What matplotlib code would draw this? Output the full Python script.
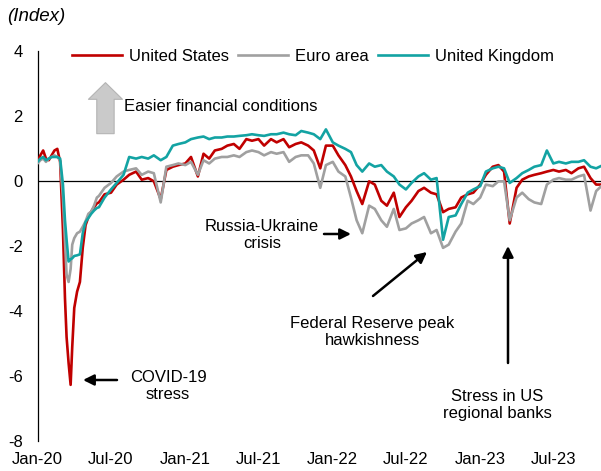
import numpy as np
import pandas as pd
import matplotlib
matplotlib.use("Agg")
import matplotlib.pyplot as plt

plt.rcParams["font.family"] = ["Liberation Sans", "DejaVu Sans"]
plt.rcParams["font.size"] = 12
plt.rcParams["axes.unicode_minus"] = False

# weekly dates through the COVID shock, then semi-monthly
dates_early = ["2020-01-01", "2020-01-08", "2020-01-15", "2020-01-22", "2020-01-29",
               "2020-02-05", "2020-02-12", "2020-02-19", "2020-02-26", "2020-03-04",
               "2020-03-09", "2020-03-13", "2020-03-18", "2020-03-23", "2020-03-27",
               "2020-04-01", "2020-04-08", "2020-04-15", "2020-04-22", "2020-04-29",
               "2020-05-06", "2020-05-13", "2020-05-20", "2020-05-27"]
dates_late = pd.date_range("2020-06-01", "2023-11-01", freq="SMS")
dates = pd.to_datetime(dates_early).append(dates_late)

us = [0.60, 0.80, 0.95, 0.70, 0.65, 0.80, 0.95, 1.00, 0.60, -1.50,
      -3.60, -4.80, -5.60, -6.27, -5.10, -3.90, -3.40, -3.10, -2.05, -1.35,
      -1.10, -0.93, -0.80, -0.68,
      # Jun-20 ..
      -0.65, -0.40, -0.35, -0.10, 0.05, 0.20, 0.30, 0.05, 0.10, 0.00,
      -0.55, 0.35, 0.45, 0.50, 0.55, 0.75, 0.15, 0.85, 0.70, 0.95,
      1.00, 1.10, 1.15, 1.00, 1.30, 1.25, 1.30, 1.10, 1.30, 1.20,
      1.30, 1.05, 1.15, 1.20, 1.10, 0.95, 0.40, 1.10, 1.10, 0.80,
      0.50, 0.15, -0.30, -0.70, 0.00, -0.10, -0.60, -0.75, -0.35, -1.10,
      -0.80, -0.60, -0.30, -0.20, -0.35, -0.40, -0.95, -0.85, -0.80, -0.50,
      -0.40, -0.35, -0.10, 0.20, 0.45, 0.50, 0.30, -1.30, -0.20, 0.05,
      0.15, 0.20, 0.25, 0.30, 0.35, 0.30, 0.35, 0.25, 0.40, 0.45,
      0.10, -0.10, -0.10]

euro = [0.55, 0.65, 0.70, 0.60, 0.70, 0.75, 0.80, 0.75, 0.65, -0.50,
        -1.85, -2.87, -3.10, -2.70, -1.95, -1.75, -1.60, -1.55, -1.40, -1.23,
        -1.00, -0.93, -0.75, -0.50,
        -0.45, -0.20, -0.05, 0.15, 0.30, 0.35, 0.40, 0.20, 0.30, 0.25,
        -0.65, 0.45, 0.50, 0.55, 0.50, 0.60, 0.20, 0.65, 0.55, 0.70,
        0.75, 0.75, 0.80, 0.75, 0.90, 0.95, 0.90, 0.80, 0.90, 0.85,
        0.90, 0.60, 0.75, 0.80, 0.80, 0.55, -0.20, 0.50, 0.60, 0.30,
        0.15, -0.50, -1.20, -1.60, -0.75, -0.85, -1.20, -1.40, -0.85, -1.50,
        -1.45, -1.30, -1.20, -1.10, -1.60, -1.50, -2.05, -1.95, -1.55, -1.30,
        -0.60, -0.70, -0.50, -0.10, -0.15, 0.00, 0.00, -1.20, -0.50, -0.35,
        -0.55, -0.65, -0.70, -0.10, 0.05, 0.10, 0.05, 0.05, 0.15, 0.20,
        -0.90, -0.30, -0.10]

uk = [0.60, 0.70, 0.75, 0.65, 0.70, 0.75, 0.75, 0.75, 0.70, -0.10,
      -1.20, -1.80, -2.47, -2.40, -2.37, -2.30, -2.28, -2.25, -1.60, -1.25,
      -1.13, -1.00, -0.90, -0.82,
      -0.80, -0.50, -0.25, -0.05, 0.20, 0.75, 0.70, 0.75, 0.70, 0.80,
      0.65, 0.75, 1.10, 1.15, 1.20, 1.30, 1.35, 1.38, 1.30, 1.35,
      1.35, 1.38, 1.38, 1.40, 1.42, 1.45, 1.42, 1.40, 1.45, 1.45,
      1.50, 1.45, 1.42, 1.55, 1.50, 1.45, 1.30, 1.60, 1.20, 1.10,
      1.00, 0.90, 0.50, 0.30, 0.55, 0.45, 0.50, 0.30, 0.15, -0.10,
      -0.25, -0.05, 0.15, 0.25, 0.05, 0.10, -1.80, -1.10, -1.05, -0.70,
      -0.35, -0.25, -0.15, 0.30, 0.40, 0.45, 0.40, -0.05, 0.10, 0.25,
      0.35, 0.45, 0.50, 0.95, 0.55, 0.60, 0.55, 0.60, 0.60, 0.65,
      0.45, 0.40, 0.50]

labels = ["United States", "Euro area", "United Kingdom"]
colors = ["#C00000", "#A0A0A0", "#13A3A3"]

fig = plt.figure(figsize=(6.01, 4.71), dpi=100)
ax = fig.add_axes([0.0624, 0.0637, 0.9376, 0.827])

for vals, lab, col in zip([us, euro, uk], labels, colors):
    ax.plot(dates, vals, color=col, lw=1.9, label=lab, zorder=3)

ax.axhline(0, color="black", lw=0.9, zorder=2)
ax.set_ylim(-8, 4)
ax.set_yticks(np.arange(-8, 5, 2))
ax.set_xlim(pd.Timestamp("2020-01-01"), pd.Timestamp("2023-10-27"))
xt = pd.date_range("2020-01-01", "2023-07-01", freq="6MS")
ax.set_xticks(xt)
ax.set_xticklabels([d.strftime("%b-%y") for d in xt])
for s in ["top", "right", "bottom"]:
    ax.spines[s].set_visible(False)
ax.spines["left"].set_linewidth(0.9)
ax.tick_params(axis="y", length=0, pad=10.5, labelsize=12)
ax.tick_params(axis="x", length=0, pad=8, labelsize=12)

ax.legend(loc="center left", bbox_to_anchor=(0.061, 0.988), ncol=3, frameon=False,
          borderpad=0, handlelength=3.0, handletextpad=0.42, columnspacing=0.54,
          fontsize=12, borderaxespad=0)

fig.text(0.012, 0.965, "(Index)", fontsize=13.5, style="italic", va="center", ha="left")

# easier financial conditions block arrow
ax.annotate("", xy=(0.1206, 0.920), xytext=(0.1206, 0.789), xycoords="axes fraction",
            arrowprops=dict(arrowstyle="simple,head_length=1.2,head_width=2.45,tail_width=1.25",
                            mutation_scale=10, fc="#CACACA", ec="#B4B4B4", lw=0.8,
                            shrinkA=0, shrinkB=0))
ax.text(0.154, 0.858, "Easier financial conditions", transform=ax.transAxes,
        ha="left", va="center", fontsize=12)

arrow = dict(arrowstyle="-|>", color="black", lw=1.8, mutation_scale=16, shrinkA=0, shrinkB=0)


def fx(px):
    return (px - 37.5) / 563.5


def fy(py):
    return (441 - py) / 389.5


ax.annotate("", xy=(fx(83), fy(380)), xytext=(fx(117), fy(380)),
            xycoords="axes fraction", arrowprops=arrow)
ax.text(fx(168), fy(386), "COVID-19\nstress", transform=ax.transAxes,
        ha="center", va="center", fontsize=12, linespacing=1.1)

ax.annotate("", xy=(fx(351), fy(234)), xytext=(fx(324), fy(234)),
            xycoords="axes fraction", arrowprops=arrow)
ax.text(fx(262), fy(235), "Russia-Ukraine\ncrisis", transform=ax.transAxes,
        ha="center", va="center", fontsize=12, linespacing=1.1)

ax.annotate("", xy=(fx(427), fy(252)), xytext=(fx(373), fy(296)),
            xycoords="axes fraction", arrowprops=arrow)
ax.text(fx(372), fy(332), "Federal Reserve peak\nhawkishness", transform=ax.transAxes,
        ha="center", va="center", fontsize=12, linespacing=1.1)

ax.annotate("", xy=(fx(508), fy(246)), xytext=(fx(508), fy(363)),
            xycoords="axes fraction", arrowprops=arrow)
ax.text(fx(497), fy(405), "Stress in US\nregional banks", transform=ax.transAxes,
        ha="center", va="center", fontsize=12, linespacing=1.1)

fig.savefig("out.png", dpi=100)
